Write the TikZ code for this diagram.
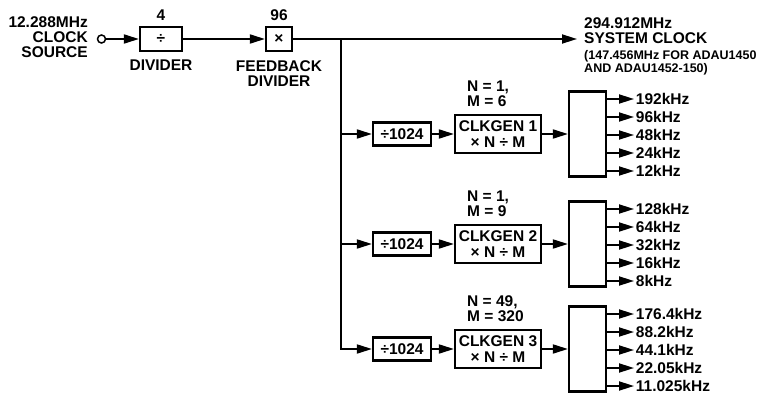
\documentclass[tikz,border=0pt]{standalone}
\usepackage{fontspec}
\setmainfont{Liberation Sans}
\usetikzlibrary{arrows.meta,positioning}

\begin{document}
\begin{tikzpicture}[x=1pt, y=-1pt, >={Triangle[length=15pt,width=9pt]}, line width=1.8pt,
    every node/.style={font=\bfseries\fontsize{15.5}{15}\selectfont},
    blk/.style={draw, line width=2.2pt, inner sep=0pt, align=center},
    note/.style={font=\bfseries\fontsize{12.5}{13}\selectfont, align=left}]
  \useasboundingbox (0,0) rectangle (765,396);

  % Clock source
  \node[draw, circle, fill=white, minimum size=8pt, inner sep=0pt, line width=1.5pt] (src) at (101.5,39) {};
  \node[anchor=east, align=right] (srclbl) at (92,37.5) {12.288MHz\\CLOCK\\SOURCE};

  % Input divider and feedback divider
  \node[blk, minimum width=42pt, minimum height=24pt] (div) at (161,39) {÷};
  \node[above=1pt of div] (divn) {4};
  \node[below=4pt of div] (divlbl) {DIVIDER};
  \node[blk, minimum width=26pt, minimum height=24pt] (fbk) at (279,39) {×};
  \node[above=1pt of fbk] (fbkn) {96};
  \node[below=4pt of fbk, align=center] (fbklbl) {FEEDBACK\\DIVIDER};
  \draw[->] (src) -- (div);
  \draw[->] (div) -- (fbk);

  % System clock output
  \coordinate (br) at (341,39);
  \coordinate (clkout) at (577,39);
  \draw[->] (fbk) -- (clkout);
  \node[anchor=west, align=left] (sys) at (580,31) {294.912MHz\\SYSTEM CLOCK};
  \node[note, anchor=west] (sysnote) at (580,62.5) {(147.456MHz FOR ADAU1450\\AND ADAU1452-150)};

  % Clock generators
  \foreach \idx/\yy/\nn/\mm/\outs in {1/134/1/6/{192kHz,96kHz,48kHz,24kHz,12kHz},
      2/244/1/9/{128kHz,64kHz,32kHz,16kHz,8kHz},
      3/349/49/320/{176.4kHz,88.2kHz,44.1kHz,22.05kHz,11.025kHz}}{
    \node[blk, minimum width=58pt, minimum height=23pt] (d\idx) at (402,\yy) {÷1024};
    \node[blk, minimum width=86pt, minimum height=38pt] (g\idx) at (498,\yy) {CLKGEN \idx\\[1.5pt]× N ÷ M};
    \node[blk, minimum width=37pt, minimum height=85pt] (s\idx) at (587.5,\yy) {};
    \node[anchor=west, align=left] (nm\idx) at (463,\yy-40) {N = \nn,\\M = \mm};
    \draw[->] (br) |- (d\idx);
    \draw[->] (d\idx) -- (g\idx);
    \draw[->] (g\idx) -- (s\idx);
    \foreach \lab [count=\k] in \outs {
      \node[anchor=west, inner sep=1pt] (o\idx\k) at (634,\yy+18*\k-53) {\lab};
      \draw[->] (s\idx.east |- o\idx\k.west) -- (o\idx\k.west);
    }
  }
\end{tikzpicture}
\end{document}
